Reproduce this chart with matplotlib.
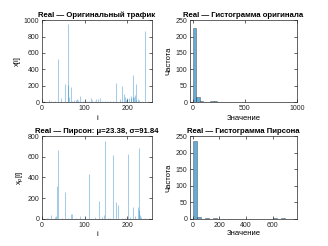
import numpy as np
import matplotlib
matplotlib.use("Agg")
import matplotlib.pyplot as plt

# ---------------- data (zeros elsewhere) ----------------
n_points = 256

# original traffic: index -> value
orig_idx = [5, 12, 17, 22, 30, 38, 45, 53, 60, 62, 63, 67, 70, 76, 80, 82, 84, 88,
            95, 103, 110, 114, 118, 125, 127, 131, 135, 140, 148, 152, 160, 165,
            174, 182, 187, 191, 195, 196, 200, 204, 208, 209, 212, 213, 216, 218,
            219, 221, 224, 228, 235, 241, 248]
orig_val = [8, 6, 25, 12, 10, 530, 50, 220, 950, 205, 58, 180, 15, 20, 22, 40, 28, 80,
            12, 10, 18, 50, 25, 15, 42, 38, 45, 12, 15, 10, 8, 12,
            232, 40, 196, 100, 60, 25, 55, 45, 50, 80, 335, 65, 65, 85,
            30, 217, 40, 20, 15, 865, 10]

# Pearson transformed: index -> value
pear_idx = [12, 15, 20, 30, 33, 35, 38, 46, 54, 60, 67, 71, 80, 90, 100, 110, 125,
            134, 140, 144, 148, 155, 160, 167, 173, 177, 186, 195, 202, 207, 214,
            218, 224, 226, 227, 229, 231, 240, 250]
pear_val = [5, 8, 35, 20, 25, 318, 665, 10, 257, 12, 45, 50, 6, 30, 8, 430, 20,
            174, 15, 40, 755, 10, 12, 614, 164, 135, 8, 10, 624, 15, 113,
            25, 119, 90, 688, 40, 20, 6, 5]

mu_p = 23.38
sigma_p = 91.84

x_orig = np.zeros(n_points)
x_orig[orig_idx] = orig_val
x_pear = np.zeros(n_points)
x_pear[pear_idx] = pear_val
i = np.arange(n_points)

# ---------------- style ----------------
plt.rcParams['font.family'] = ['Liberation Sans', 'DejaVu Sans']
plt.rcParams['mathtext.fontset'] = 'custom'
plt.rcParams['mathtext.rm'] = 'Liberation Sans'
plt.rcParams['mathtext.it'] = 'Liberation Sans:italic'
blue = '#0072BD'
axcol = '#262626'
tick_fs = 5
lab_fs = 5.5
title_fs = 5.6

fig = plt.figure(figsize=(3.28, 2.46), dpi=100)
ax1 = fig.add_axes([0.128, 0.585, 0.335, 0.333])
ax2 = fig.add_axes([0.579, 0.585, 0.326, 0.333])
ax3 = fig.add_axes([0.128, 0.110, 0.335, 0.337])
ax4 = fig.add_axes([0.579, 0.110, 0.326, 0.337])


def style(ax):
    for s in ax.spines.values():
        s.set_linewidth(0.5)
        s.set_color(axcol)
    ax.tick_params(direction='in', length=2, width=0.5, labelsize=tick_fs,
                   colors=axcol, pad=2, top=True, right=True)


# ----- top left: original signal -----
ax1.vlines(i, 0, x_orig, color=blue, alpha=0.35, linewidth=0.75)
ax1.set_xlim(0, 257)
ax1.set_ylim(0, 1000)
ax1.set_yticks([0, 200, 400, 600, 800, 1000])
ax1.set_xticks([0, 100, 200])
ax1.set_xlabel('i', fontsize=lab_fs, labelpad=2)
ax1.set_ylabel('x[i]', fontsize=lab_fs, labelpad=2)
ax1.set_title('Real — Оригинальный трафик', fontsize=title_fs, fontweight='bold', pad=2)
style(ax1)

# ----- top right: histogram of original -----
ax2.hist(x_orig, bins=np.arange(0, 1001, 34), color=blue, alpha=0.6,
         edgecolor='#1a1a1a', linewidth=0.4)
ax2.set_xlim(-25, 1000)
ax2.set_ylim(0, 250)
ax2.set_xticks([0, 500, 1000])
ax2.set_yticks([0, 50, 100, 150, 200, 250])
ax2.set_xlabel('Значение', fontsize=lab_fs, labelpad=2)
ax2.set_ylabel('Частота', fontsize=lab_fs, labelpad=2)
ax2.set_title('Real — Гистограмма оригинала', fontsize=title_fs, fontweight='bold', pad=2)
style(ax2)

# ----- bottom left: Pearson signal -----
ax3.vlines(i, 0, x_pear, color=blue, alpha=0.35, linewidth=0.75)
ax3.set_xlim(0, 257)
ax3.set_ylim(0, 800)
ax3.set_yticks([0, 200, 400, 600, 800])
ax3.set_xticks([0, 100, 200])
ax3.set_xlabel('i', fontsize=lab_fs, labelpad=2)
ax3.set_ylabel('x$_p$[i]', fontsize=lab_fs, labelpad=2)
ax3.set_title(f'Real — Пирсон: μ={mu_p:.2f}, σ={sigma_p:.2f}',
              fontsize=title_fs, fontweight='bold', pad=2)
style(ax3)

# ----- bottom right: histogram of Pearson -----
ax4.hist(x_pear, bins=np.arange(0, 801, 30), color=blue, alpha=0.6,
         edgecolor='#1a1a1a', linewidth=0.4)
ax4.set_xlim(-20, 780)
ax4.set_ylim(0, 250)
ax4.set_xticks([0, 200, 400, 600])
ax4.set_yticks([0, 50, 100, 150, 200, 250])
ax4.set_xlabel('Значение', fontsize=lab_fs, labelpad=1)
ax4.set_ylabel('Частота', fontsize=lab_fs, labelpad=2)
ax4.set_title('Real — Гистограмма Пирсона', fontsize=title_fs, fontweight='bold', pad=2)
style(ax4)

fig.savefig('out.png', dpi=100)
